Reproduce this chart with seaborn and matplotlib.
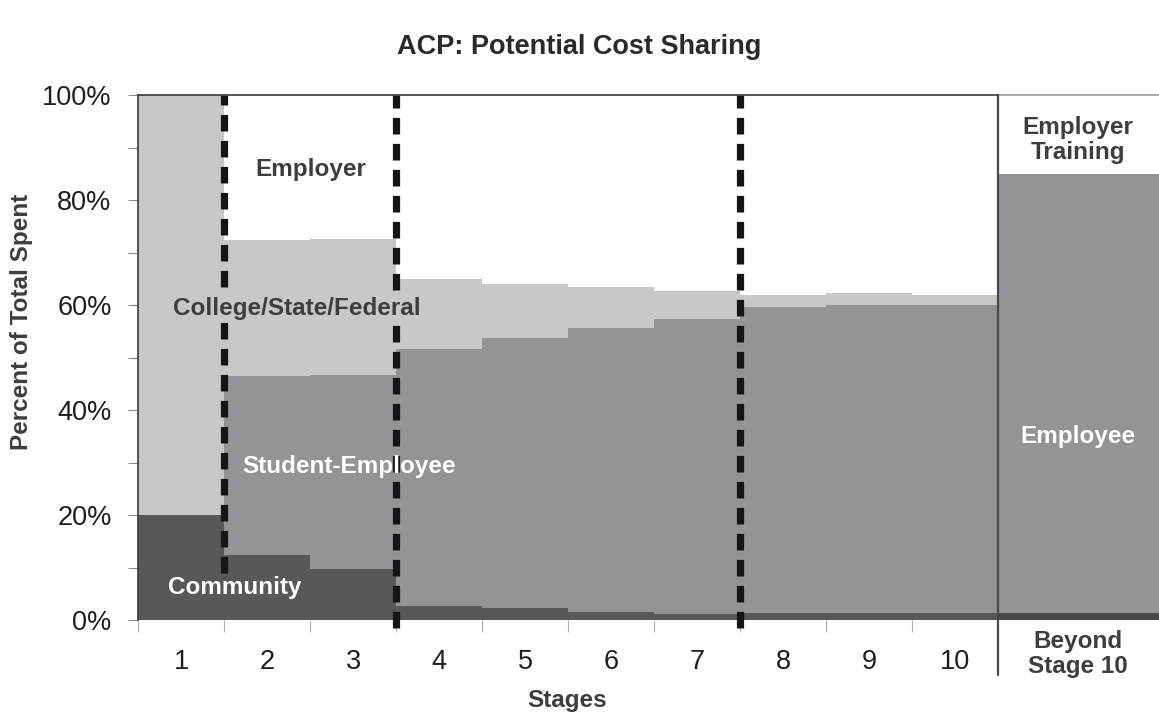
import matplotlib
matplotlib.use("Agg")
import matplotlib.pyplot as plt
import seaborn as sns
import pandas as pd
import numpy as np

# ---- data (percent of total spent) ----
stages = ["1", "2", "3", "4", "5", "6", "7", "8", "9", "10"]
community = [20.0, 12.3, 9.7, 2.6, 2.3, 1.6, 1.2, 1.4, 1.4, 1.4]
student_employee = [0.0, 34.2, 37.0, 49.0, 51.4, 54.0, 56.1, 58.3, 58.6, 58.6]
college_state_federal = [80.0, 25.8, 25.9, 13.3, 10.3, 7.8, 5.4, 2.3, 2.3, 2.0]
employer = [0.0, 27.7, 27.4, 35.1, 36.0, 36.6, 37.3, 38.0, 37.7, 38.0]

beyond_label = "Beyond\nStage 10"
beyond_community = 1.4
beyond_employee = 83.6
beyond_employer_training = 15.0

phase_breaks = [0.5, 2.5, 6.5]  # dashed separators between stage groups

y_ticks = [0, 20, 40, 60, 80, 100]
y_tick_labels = ["0%", "20%", "40%", "60%", "80%", "100%"]

# ---- styling ----
sns.set_theme(style="white")
plt.rcParams["font.family"] = ["Liberation Sans", "DejaVu Sans"]

c_comm = "#58585a"
c_stud = "#939497"
c_coll = "#c7c8ca"
c_empl = "#ffffff"
c_text = "#3d3d3f"

df = pd.DataFrame({
    "stage": stages,
    "community": community,
    "student": student_employee,
    "college": college_state_federal,
    "employer": employer,
})
df["lvl1"] = df["community"]
df["lvl2"] = df["lvl1"] + df["student"]
df["lvl3"] = df["lvl2"] + df["college"]
df["lvl4"] = df["lvl3"] + df["employer"]

W, H = 1159, 717
fig = plt.figure(figsize=(W / 100, H / 100), dpi=100)
ax = fig.add_axes([138 / W, 1 - 620 / H, 1 - 138 / W, 525 / H])

for col, colr in [("lvl4", c_empl), ("lvl3", c_coll), ("lvl2", c_stud), ("lvl1", c_comm)]:
    sns.barplot(data=df, x="stage", y=col, order=stages, color=colr, width=1.0,
                saturation=1, errorbar=None, linewidth=0, edgecolor="none", ax=ax)

# Beyond stage 10 column
bx = 10.5
ax.bar([bx], [beyond_community + beyond_employee + beyond_employer_training], width=2.0,
       color=c_empl, linewidth=0)
ax.bar([bx], [beyond_community + beyond_employee], width=2.0, color=c_stud, linewidth=0)
ax.bar([bx], [beyond_community], width=2.0, color="#48484a", linewidth=0)

ax.set_xlim(-0.5, 11.37)
ax.set_ylim(0, 100)

# spines / frame
for s in ["top", "right", "bottom"]:
    ax.spines[s].set_visible(False)
ax.spines["left"].set_color("#3a3a3a")
ax.spines["left"].set_linewidth(1.2)
ax.plot([-0.5, 9.5], [100, 100], color="#3a3a3a", lw=1.2, clip_on=False, zorder=5)
ax.plot([9.5, 11.37], [100, 100], color="#9a9a9a", lw=1.2, clip_on=False, zorder=5)
ax.plot([9.5, 9.5], [-10.5, 100], color="#4a4a4c", lw=1.6, clip_on=False, zorder=6)

# dashed separators
dash = (0, (2.3, 1.3))
ax.plot([phase_breaks[0]] * 2, [8.9, 100], color="#151515", lw=5.2, linestyle=dash, zorder=4)
ax.plot([phase_breaks[1]] * 2, [-1.5, 100], color="#151515", lw=5.2, linestyle=dash,
        zorder=4, clip_on=False)
ax.plot([phase_breaks[2]] * 2, [-1.5, 100], color="#151515", lw=5.2, linestyle=dash,
        zorder=4, clip_on=False)

# ticks
ax.set_yticks(y_ticks)
ax.set_yticklabels(y_tick_labels)
ax.set_yticks([10, 30, 50, 70, 90], minor=True)
ax.tick_params(axis="y", which="both", left=True, length=7, width=0.8, color="#8a8a8a",
               direction="out", pad=12, labelsize=19.5, labelcolor="#1e1e1e")
ax.set_xticks(range(len(stages)))
ax.set_xticklabels(stages)
ax.set_xticks([i - 0.5 for i in range(len(stages))], minor=True)
ax.tick_params(axis="x", which="major", bottom=True, length=0, pad=21, labelsize=19.5,
               labelcolor="#1e1e1e")
ax.tick_params(axis="x", which="minor", bottom=True, length=8.5, width=0.8, color="#b0b0b0",
               direction="out")
ax.set_xlabel("")
ax.set_ylabel("")

ax.text(10.43, -6.5, beyond_label, ha="center", va="center", fontsize=17.5,
        fontweight="bold", color=c_text, linespacing=1.15, clip_on=False)

# axis labels and title
fig.text(567 / W, 1 - 700 / H, "Stages", ha="center", va="center", fontsize=17.5,
         fontweight="bold", color=c_text)
fig.text(22 / W, 1 - 322 / H, "Percent of Total Spent", ha="center", va="center",
         rotation=90, fontsize=17.5, fontweight="bold", color=c_text)
fig.text(579 / W, 1 - 47 / H, "ACP: Potential Cost Sharing", ha="center", va="center",
         fontsize=19.5, fontweight="bold", color="#2a2a2a")

# region labels
lab = dict(ha="center", va="center", fontsize=17.5, fontweight="bold")
ax.text(1.51, 85.8, "Employer", color=c_text, zorder=7, **lab)
ax.text(1.35, 59.4, "College/State/Federal", color=c_text, zorder=7,
        bbox=dict(facecolor=c_coll, edgecolor="none", pad=2), **lab)
ax.text(1.95, 29.3, "Student-Employee", color="white", zorder=7, **lab)
ax.text(0.63, 6.1, "Community", color="white", zorder=7, **lab)
ax.text(10.43, 34.9, "Employee", color="white", zorder=7, **lab)
ax.text(10.43, 91.5, "Employer\nTraining", color=c_text, zorder=7, linespacing=1.1, **lab)

fig.savefig("out.png", dpi=100, facecolor="white")
